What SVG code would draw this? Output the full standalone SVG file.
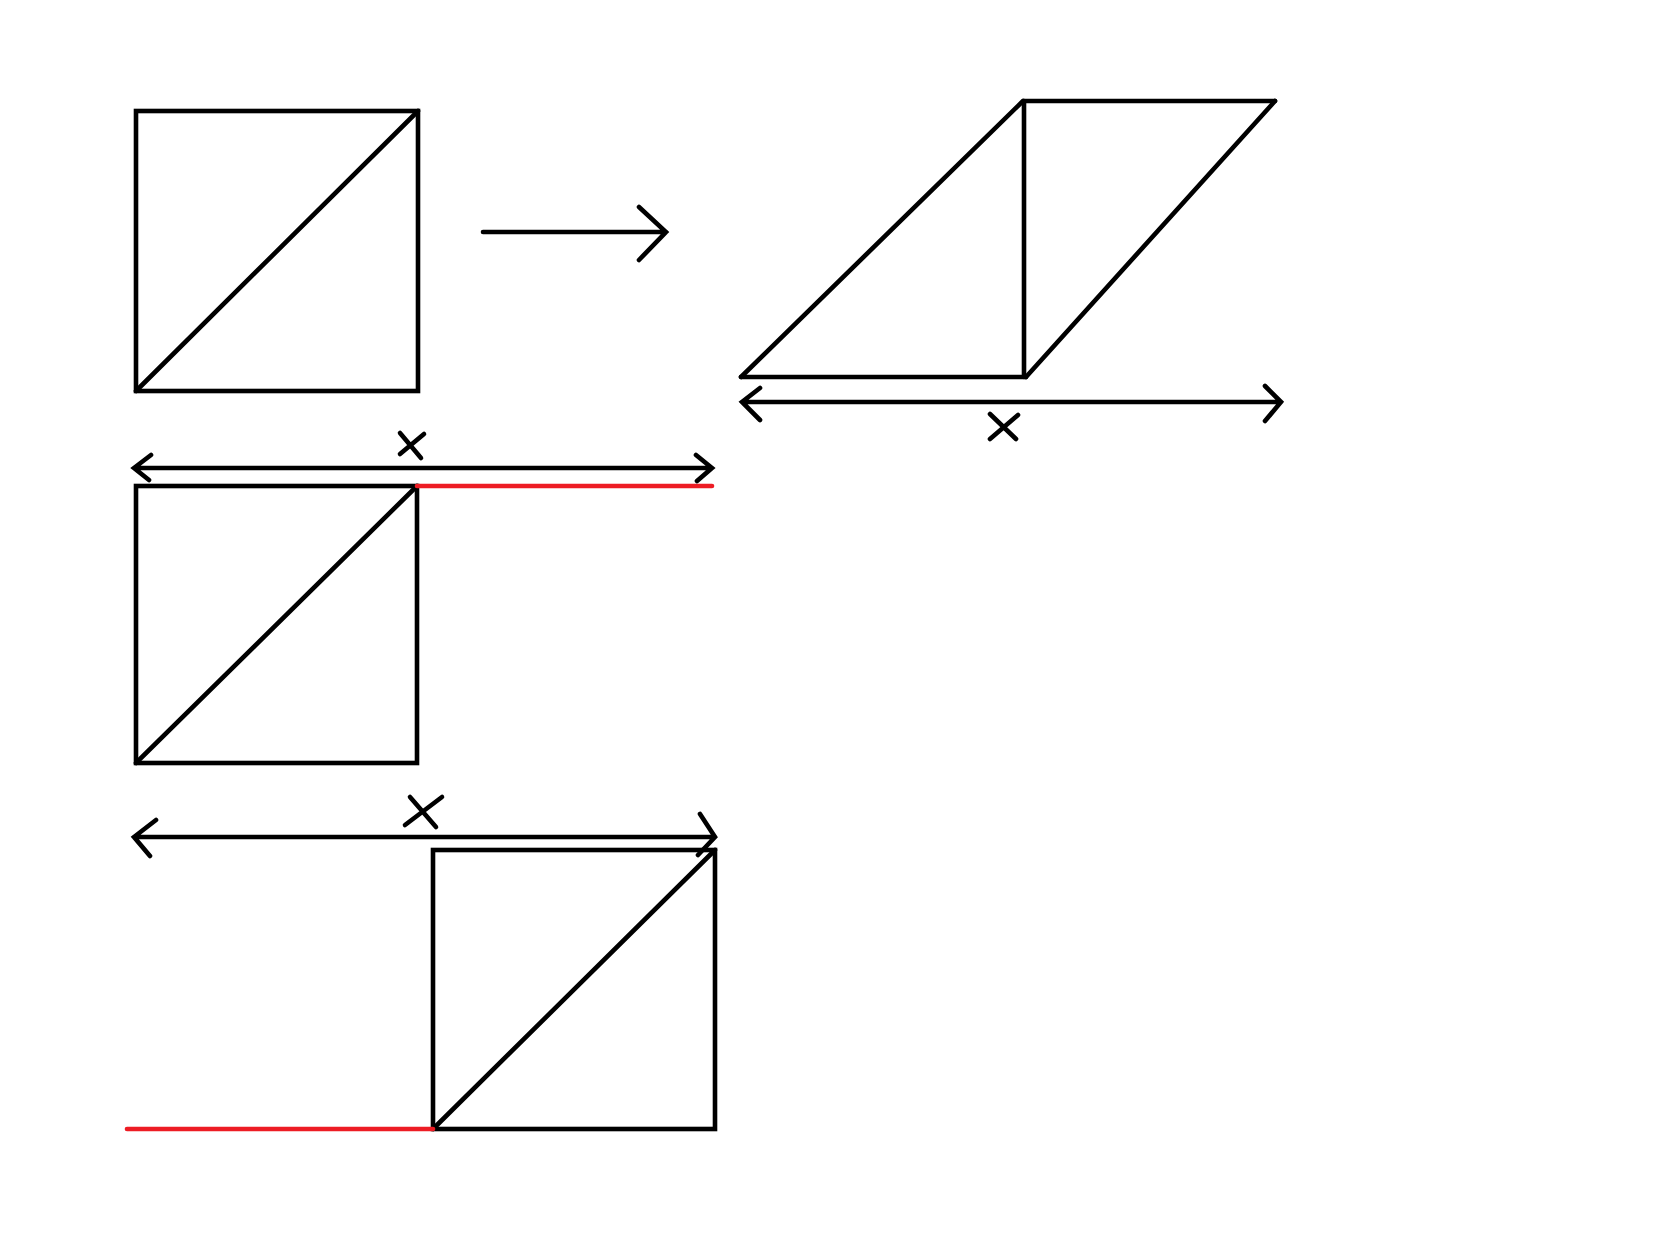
<svg xmlns="http://www.w3.org/2000/svg" width="1664" height="1248" viewBox="0 0 1664 1248">
<style>
.s{fill:none;stroke:#000;stroke-width:4.6;stroke-linecap:round;stroke-linejoin:miter}
.r{fill:none;stroke:#ED1C24;stroke-width:4.6;stroke-linecap:round}
</style>
<rect width="1664" height="1248" fill="#fff"/>
<g id="square1">
<rect class="s" x="136" y="111" width="282" height="280"/>
<line class="s" x1="136" y1="391" x2="418" y2="111"/>
</g>
<g id="parallelogram">
<line class="s" x1="741" y1="377" x2="1026" y2="377"/>
<line class="s" x1="741" y1="377" x2="1023" y2="101"/>
<line class="s" x1="1024" y1="101" x2="1024" y2="377"/>
<line class="s" x1="1024" y1="101" x2="1275" y2="101"/>
<line class="s" x1="1275" y1="101" x2="1026" y2="377"/>
</g>
<g id="square2">
<rect class="s" x="136" y="486" width="281" height="277"/>
<line class="s" x1="136" y1="763" x2="417" y2="486"/>
<line class="r" x1="417" y1="486" x2="712" y2="486"/>
</g>
<g id="square3">
<rect class="s" x="433" y="850" width="282" height="279"/>
<line class="s" x1="433" y1="1129" x2="715" y2="850"/>
<line class="r" x1="127" y1="1129" x2="433" y2="1129"/>
</g>
<g id="connectors">
<path class="s" d="M483 232H666M639 207L666 232L639 260"/>
<path class="s" d="M742 402H1281M760 388L742 402L760 420M1265 386L1281 402L1265 421"/>
<path class="s" d="M134 468H712M151 455L134 468L149 480M696 455L712 468L697 481"/>
<path class="s" d="M134 837H715M156 820L134 837L150 856M700 814L715 837L698 855"/>
</g>
<g id="labels">
<path class="s" d="M990 414L1016 439M1018 415L990 439"/>
<path class="s" d="M400 433L421 458M424 434L400 454"/>
<path class="s" d="M410 797L436 827M442 797L405 825"/>
</g>
</svg>
